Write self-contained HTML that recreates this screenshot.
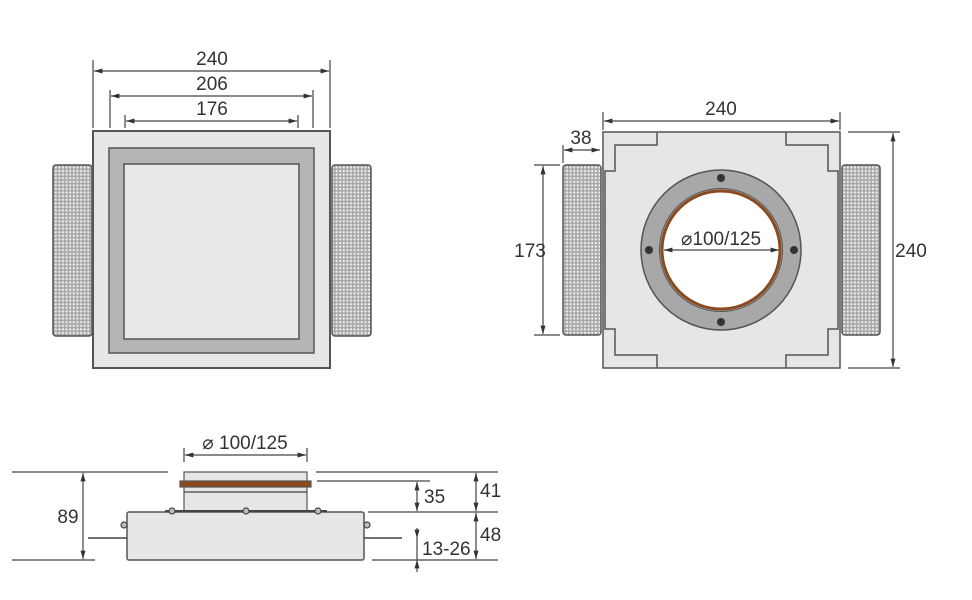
<!DOCTYPE html>
<html><head><meta charset="utf-8"><style>
html,body{margin:0;padding:0;background:#fff;}
svg{display:block;}
text{font-family:"Liberation Sans",sans-serif;font-size:19px;fill:#333;text-anchor:middle;}
</style></head><body>
<svg width="972" height="600" viewBox="0 0 972 600" xmlns="http://www.w3.org/2000/svg">
<defs>
<pattern id="dots" width="3.6" height="3.6" patternUnits="userSpaceOnUse">
<rect width="3.6" height="3.6" fill="#a9a9a9"/><circle cx="1.8" cy="1.8" r="1.1" fill="#f2f2f2"/>
</pattern>
<marker id="a" viewBox="0 0 10 10" refX="10" refY="5" markerWidth="7" markerHeight="7" orient="auto-start-reverse"><path d="M0,2 L10,5 L0,8 z" fill="#333"/></marker>
</defs>
<g stroke="#444" stroke-width="1.2" fill="none">
<rect x="53" y="165" width="39" height="171" rx="3" fill="url(#dots)" stroke="#555" stroke-width="1.5"/>
<rect x="332" y="165" width="39" height="171" rx="3" fill="url(#dots)" stroke="#555" stroke-width="1.5"/>
<rect x="93" y="131" width="237" height="237" fill="#e6e6e6" stroke="#555" stroke-width="2"/>
<rect x="109" y="148" width="205" height="205" fill="#b5b5b5" stroke="#555" stroke-width="1.5"/>
<rect x="124" y="164" width="175" height="175" fill="#e8e8e8" stroke="#555" stroke-width="1.5"/>
<line x1="93" y1="60" x2="93" y2="128"/><line x1="330" y1="60" x2="330" y2="128"/>
<line x1="110" y1="90" x2="110" y2="128"/><line x1="313" y1="90" x2="313" y2="128"/>
<line x1="125" y1="115" x2="125" y2="128"/><line x1="298" y1="115" x2="298" y2="128"/>
<line x1="94" y1="71" x2="329" y2="71" marker-start="url(#a)" marker-end="url(#a)"/>
<line x1="111" y1="96" x2="312" y2="96" marker-start="url(#a)" marker-end="url(#a)"/>
<line x1="126" y1="121" x2="297" y2="121" marker-start="url(#a)" marker-end="url(#a)"/>
<rect x="563" y="165" width="38" height="170" rx="3" fill="url(#dots)" stroke="#555" stroke-width="1.5"/>
<rect x="842" y="165" width="38" height="170" rx="3" fill="url(#dots)" stroke="#555" stroke-width="1.5"/>
<rect x="603" y="132" width="237" height="236" fill="#e6e6e6" stroke="#555" stroke-width="1.5"/>
<path d="M657,132 V145 H615 V171 H605 V329 H615 V355 H657 V368 M786,132 V145 H828 V171 H838 V329 H828 V355 H786 V368" stroke="#555" stroke-width="1.5"/>
<circle cx="721" cy="250" r="80" fill="#a8a8a8" stroke="#555" stroke-width="1.5"/>
<circle cx="721" cy="250" r="59" fill="#fff" stroke="#8a4a1e" stroke-width="3"/>
<circle cx="721" cy="250" r="61.5" stroke="#555" stroke-width="1"/>
<g fill="#333" stroke="none"><circle cx="721" cy="178" r="4"/><circle cx="721" cy="322" r="4"/><circle cx="649" cy="250" r="4"/><circle cx="794" cy="250" r="4"/></g>
<line x1="664" y1="250" x2="779" y2="250" marker-start="url(#a)" marker-end="url(#a)"/>
<line x1="603" y1="112" x2="603" y2="130"/><line x1="840" y1="112" x2="840" y2="130"/>
<line x1="604" y1="121" x2="839" y2="121" marker-start="url(#a)" marker-end="url(#a)"/>
<line x1="563" y1="145" x2="563" y2="163"/>
<line x1="564" y1="150" x2="600" y2="150" marker-start="url(#a)" marker-end="url(#a)"/>
<line x1="534" y1="165" x2="560" y2="165"/><line x1="534" y1="335" x2="560" y2="335"/>
<line x1="543" y1="166" x2="543" y2="334" marker-start="url(#a)" marker-end="url(#a)"/>
<line x1="848" y1="132" x2="900" y2="132"/><line x1="848" y1="368" x2="900" y2="368"/>
<line x1="893" y1="133" x2="893" y2="367" marker-start="url(#a)" marker-end="url(#a)"/>
<line x1="12" y1="472" x2="168" y2="472"/><line x1="316" y1="472" x2="498" y2="472"/>
<line x1="317" y1="481" x2="430" y2="481"/>
<line x1="368" y1="512" x2="498" y2="512"/>
<line x1="12" y1="560" x2="95" y2="560"/><line x1="372" y1="560" x2="498" y2="560"/>
<rect x="184" y="472" width="123" height="40" fill="#e6e6e6" stroke="#555"/>
<rect x="180" y="481" width="131" height="6" fill="#8a4a1e" stroke="#555"/>
<line x1="184" y1="492" x2="307" y2="492"/>
<rect x="127" y="512" width="237" height="48" rx="2" fill="#e6e6e6" stroke="#555" stroke-width="1.5"/>
<line x1="165" y1="511" x2="327" y2="511" stroke-width="2"/>
<g fill="#bbb"><circle cx="172" cy="511" r="3"/><circle cx="246" cy="511" r="3"/><circle cx="318" cy="511" r="3"/><circle cx="124" cy="525" r="3"/><circle cx="367" cy="525" r="3"/></g>
<line x1="88" y1="538" x2="127" y2="538" stroke-width="1.5"/><line x1="364" y1="538" x2="402" y2="538" stroke-width="1.5"/>
<line x1="184" y1="448" x2="184" y2="462"/><line x1="307" y1="448" x2="307" y2="462"/>
<line x1="185" y1="455" x2="306" y2="455" marker-start="url(#a)" marker-end="url(#a)"/>
<line x1="83" y1="473" x2="83" y2="559" marker-start="url(#a)" marker-end="url(#a)"/>
<line x1="417" y1="482" x2="417" y2="511" marker-start="url(#a)" marker-end="url(#a)"/>
<line x1="476" y1="473" x2="476" y2="511" marker-start="url(#a)" marker-end="url(#a)"/>
<line x1="476" y1="513" x2="476" y2="559" marker-start="url(#a)" marker-end="url(#a)"/>
<line x1="417" y1="528" x2="417" y2="538" marker-end="url(#a)"/>
<line x1="417" y1="572" x2="417" y2="560" marker-end="url(#a)"/>
<line x1="417" y1="538" x2="417" y2="560"/>
</g>
<text x="212" y="65">240</text>
<text x="212" y="90">206</text>
<text x="212" y="115">176</text>
<text x="721" y="115">240</text>
<text x="581" y="144">38</text>
<text x="530" y="257">173</text>
<text x="911" y="257">240</text>
<text x="721" y="245">⌀100/125</text>
<text x="245" y="449">⌀ 100/125</text>
<text x="68" y="523">89</text>
<text x="424" y="503" style="text-anchor:start">35</text>
<text x="480" y="497" style="text-anchor:start">41</text>
<text x="480" y="541" style="text-anchor:start">48</text>
<text x="422" y="555" style="text-anchor:start">13-26</text>
</svg>
</body></html>
